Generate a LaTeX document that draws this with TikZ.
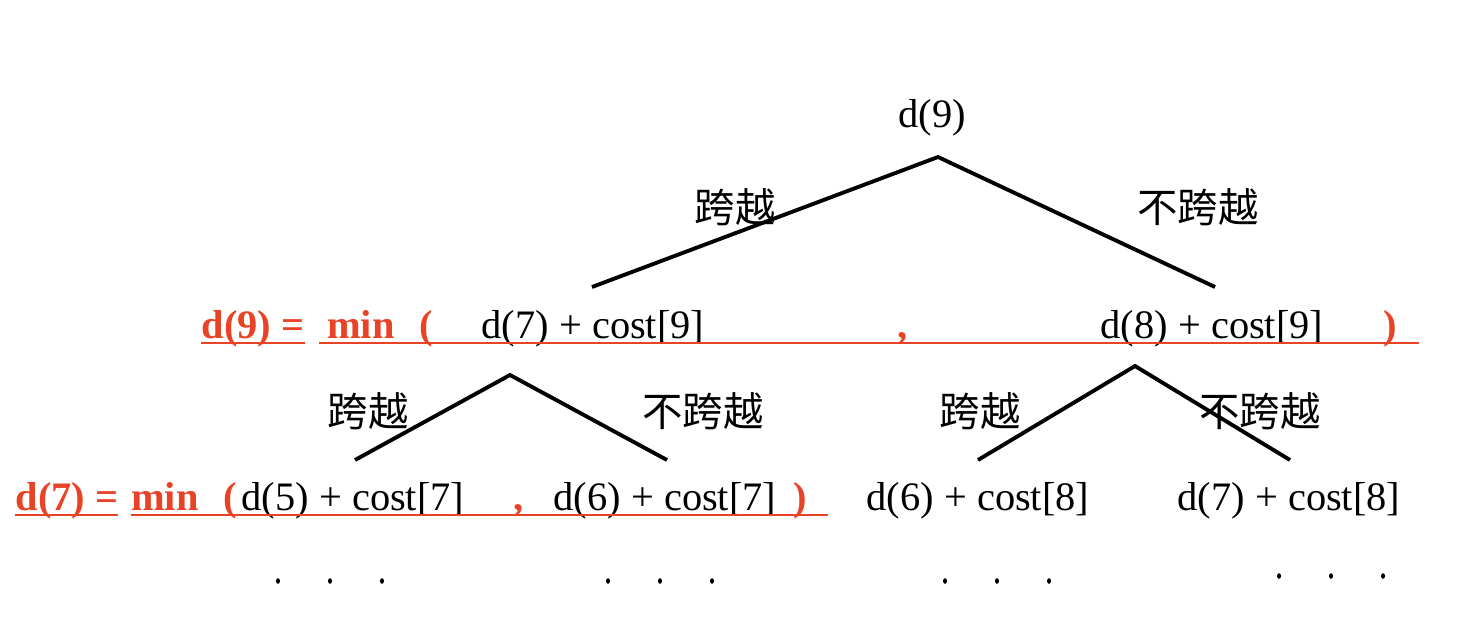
\documentclass[tikz,border=0pt]{standalone}
\usepackage{fontspec}
\setmainfont{Liberation Serif}
\newfontfamily\cjk{Noto Sans CJK SC}
\definecolor{minred}{RGB}{232,67,38}
\tikzset{
  term/.style={font=\fontsize{11.5}{14}\selectfont, anchor=base, inner sep=0pt},
  redterm/.style={term, text=minred, font=\fontsize{11.5}{14}\selectfont\bfseries},
  choice/.style={font=\fontsize{11.5}{14}\selectfont\cjk, inner sep=0pt},
  branch/.style={line width=1.1pt},
  uline/.style={draw=minred, line width=0.45pt},
}
\begin{document}
\begin{tikzpicture}
\useasboundingbox (0,0) rectangle (14.82,6.4);
% root
\node[term] (d9) at (9.32,5.13) {d(9)};
\coordinate (top) at (9.38,4.83);
\coordinate (topl) at (5.92,3.53);
\coordinate (topr) at (12.15,3.53);
\draw[branch] (topl) -- (top) -- (topr);
\node[choice] (cross1) at (7.35,4.33) {跨越};
\node[choice] (nocross1) at (11.98,4.33) {不跨越};
% first level
\node[redterm] (eq9) at (2.53,3.02) {d(9) =};
\node[redterm] (min9) at (3.61,3.02) {min};
\node[redterm] (open9) at (4.26,3.02) {(};
\node[term] (d7c9) at (5.93,3.02) {d(7) + cost[9]};
\node[redterm] (comma9) at (9.03,3.02) {,};
\node[term] (d8c9) at (12.12,3.02) {d(8) + cost[9]};
\node[redterm] (close9) at (13.90,3.02) {)};
\draw[uline] (2.01,2.97) -- (3.05,2.97);
\draw[uline] (3.19,2.97) -- (14.19,2.97);
% second level, left
\coordinate (lefttop) at (5.10,2.65);
\coordinate (leftl) at (3.55,1.80);
\coordinate (leftr) at (6.67,1.80);
\draw[branch] (leftl) -- (lefttop) -- (leftr);
\node[choice] (cross2) at (3.68,2.29) {跨越};
\node[choice] (nocross2) at (7.03,2.29) {不跨越};
% second level, right
\coordinate (righttop) at (11.35,2.74);
\coordinate (rightl) at (9.78,1.80);
\coordinate (rightr) at (12.90,1.80);
\draw[branch] (rightl) -- (righttop) -- (rightr);
\node[choice] (cross3) at (9.80,2.29) {跨越};
\node[choice] (nocross3) at (12.60,2.29) {不跨越};
% bottom row
\node[redterm] (eq7) at (0.67,1.30) {d(7) =};
\node[redterm] (min7) at (1.65,1.30) {min};
\node[redterm] (open7) at (2.30,1.30) {(};
\node[term] (d5c7) at (3.53,1.30) {d(5) + cost[7]};
\node[redterm] (comma7) at (5.19,1.30) {,};
\node[term] (d6c7) at (6.65,1.30) {d(6) + cost[7]};
\node[redterm] (close7) at (8.00,1.30) {)};
\node[term] (d6c8) at (9.78,1.30) {d(6) + cost[8]};
\node[term] (d7c8) at (12.89,1.30) {d(7) + cost[8]};
\draw[uline] (0.15,1.25) -- (1.18,1.25);
\draw[uline] (1.31,1.25) -- (8.28,1.25);
% dots
\foreach \x in {2.78,3.30,3.82,6.08,6.60,7.12,9.45,9.97,10.49}
  \fill (\x,0.59) ellipse (0.02 and 0.028);
\foreach \x in {12.79,13.31,13.83}
  \fill (\x,0.64) ellipse (0.02 and 0.028);
\end{tikzpicture}
\end{document}
